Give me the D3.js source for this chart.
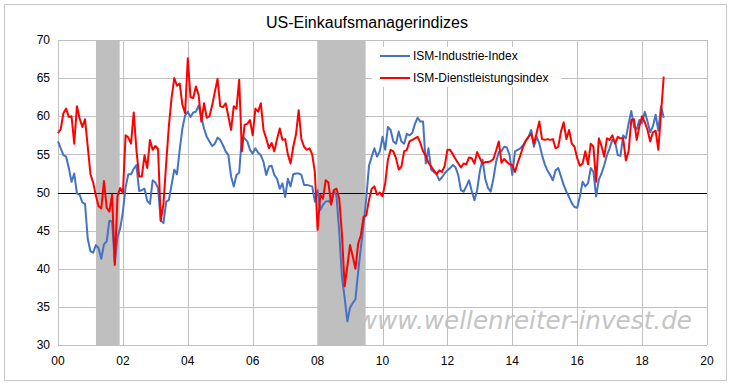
<html>
<head>
  <meta charset="utf-8">
  <title>US-Einkaufsmanagerindizes</title>
  <script src="https://d3js.org/d3.v7.min.js"></script>
  <style>
    body { margin: 0; background: #fff; }
    text { font-family: "Liberation Sans", Arial, sans-serif; }
  </style>
</head>
<body>
<script>
// monthly values, Jan 2000 .. Sep 2018
var ismIndustrie = [
  56.7, 55.8, 54.9, 54.7, 53.2, 51.4, 52.5, 49.9, 49.7, 48.7, 48.5, 43.9,
  42.3, 42.1, 43.1, 42.7, 41.3, 43.2, 43.6, 46.3, 46.2, 40.8, 44.1, 45.3,
  47.5, 50.7, 52.4, 52.4, 53.1, 53.6, 50.2, 50.3, 50.5, 48.9, 48.5, 51.6,
  51.3, 50.6, 46.3, 46.0, 48.8, 49.0, 51.0, 53.0, 52.4, 55.6, 58.4, 60.1,
  60.6, 59.9, 60.5, 60.6, 61.4, 59.9, 58.4, 57.3, 56.7, 56.1, 56.4, 57.2,
  56.9, 56.2, 55.4, 54.9, 52.1, 50.8, 52.3, 52.6, 57.3, 57.1, 56.7, 55.6,
  55.1, 55.8, 55.2, 54.9, 54.0, 52.3, 53.4, 53.5, 52.3, 51.8, 50.5, 51.2,
  49.4, 51.8, 50.8, 52.4, 52.5, 52.5, 52.3, 51.0, 51.0, 50.9, 50.8, 48.8,
  50.3, 47.7, 48.4, 48.8, 48.9, 48.6, 50.3, 49.5, 44.8, 38.9, 36.2, 33.1,
  34.9, 35.5, 36.0, 39.6, 42.8, 45.8, 49.2, 53.5, 54.7, 55.8, 54.7, 55.4,
  57.3, 55.6, 58.6, 58.2, 56.7, 56.4, 58.0, 56.7, 56.4, 57.7, 57.5, 57.8,
  59.0, 59.8, 59.3, 59.3, 53.8, 55.8, 53.0, 52.7, 52.4, 51.6, 52.0, 52.5,
  52.9, 53.2, 53.6, 53.3, 52.3, 50.3, 50.1, 50.8, 51.6, 50.2, 49.0, 50.3,
  52.8, 54.3, 51.8, 50.6, 50.1, 51.8, 54.0, 55.3, 55.4, 56.0, 55.9, 54.9,
  52.3, 55.4, 55.6, 55.8, 56.2, 56.8, 57.3, 58.2, 56.0, 57.3, 56.4, 54.9,
  53.7, 52.9, 52.3, 51.6, 52.9, 53.2, 52.1, 51.0, 50.1, 49.4, 48.6, 48.1,
  48.0, 49.5, 51.4, 50.8, 51.2, 53.2, 52.7, 49.5, 51.7, 52.5, 53.6, 54.9,
  55.8, 56.9, 56.7, 54.9, 54.8, 57.5, 57.1, 59.0, 60.7, 58.6, 58.3, 59.5,
  59.1, 60.6, 59.3, 57.9, 58.7, 60.2, 58.1, 61.3, 59.8
];
var ismDienst = [
  57.8, 58.3, 60.4, 61.0, 59.9, 60.0, 56.4, 61.3, 59.7, 58.6, 59.6, 56.0,
  52.4, 51.3, 49.6, 48.2, 47.9, 51.5, 48.0, 47.5, 49.7, 40.5, 49.5, 50.6,
  49.9, 57.5, 57.2, 56.4, 60.5, 55.6, 52.1, 52.1, 54.9, 53.2, 56.9, 55.6,
  56.1, 55.7, 46.3, 48.5, 53.8, 58.7, 62.4, 65.0, 64.0, 64.3, 61.5, 60.4,
  67.6, 62.5, 62.4, 63.9, 62.8, 59.3, 61.7, 59.8, 60.0, 61.4, 63.2, 64.9,
  61.3, 61.2, 61.7, 60.0, 58.2, 61.3, 61.0, 64.8, 55.4, 58.9, 59.0, 59.5,
  57.5, 61.0, 60.6, 61.7, 58.2, 57.1, 55.8, 56.5, 55.4, 57.0, 58.4, 56.9,
  57.0, 55.0, 53.8, 56.0, 57.6, 60.8, 57.0, 56.0, 55.6, 55.8, 55.0, 52.6,
  45.1, 49.7, 49.2, 51.6, 51.3, 48.4, 50.3, 50.5, 49.2, 44.6, 37.7, 40.3,
  43.1, 41.6, 40.0, 43.3, 44.4, 46.8, 47.0, 49.0, 50.5, 50.8, 49.7, 50.0,
  49.5, 51.2, 54.3, 55.6, 55.4, 54.5, 53.0, 53.4, 55.4, 55.6, 56.7, 56.9,
  57.1, 57.3, 56.5, 55.4, 54.8, 53.9, 53.4, 52.9, 52.4, 52.9, 52.7, 53.5,
  55.6, 55.6, 55.0, 54.4, 53.8, 53.3, 53.8, 53.7, 54.6, 54.5, 53.8, 55.3,
  54.5, 53.8, 54.0, 54.0, 54.1, 54.4, 55.5, 56.7, 53.9, 54.4, 54.0, 53.7,
  53.6, 52.7, 53.9, 54.9, 56.0, 56.8, 57.3, 57.7, 56.4, 57.8, 59.3, 57.0,
  56.9, 57.0, 56.9, 57.0, 55.8, 56.0, 58.0, 59.2, 57.0, 58.2, 56.4, 56.0,
  54.5, 53.5, 53.8, 55.4, 53.7, 56.4, 56.0, 51.4, 57.1, 56.1, 54.7, 57.1,
  56.9, 57.5, 56.4, 57.3, 57.1, 57.1, 54.2, 55.4, 59.5, 59.6, 56.9, 58.7,
  60.0, 59.2, 58.2, 56.7, 57.9, 58.1, 55.6, 60.4, 65.2
];
var seriesNames = ["ISM-Industrie-Index", "ISM-Dienstleistungsindex"];
// recessions, years after 2000
var recessions = [[1.17, 1.9], [7.99, 9.48]];
var xTicks = [0, 2, 4, 6, 8, 10, 12, 14, 16, 18, 20];
var yTicks = [30, 35, 40, 45, 50, 55, 60, 65, 70];

var width = 730, height = 384;
var margin = {top: 40, right: 23, bottom: 39, left: 58};

var svg = d3.select("body").append("svg")
  .attr("width", width).attr("height", height);

// outer frame
svg.append("rect")
  .attr("x", 4.5).attr("y", 4.5)
  .attr("width", 722).attr("height", 376)
  .attr("fill", "#fff").attr("stroke", "#c8c8c8");

var x = d3.scaleLinear().domain([0, 20]).range([margin.left, width - margin.right]);
var y = d3.scaleLinear().domain([30, 70]).range([height - margin.bottom, margin.top]);

svg.append("text")
  .attr("x", 367).attr("y", 28)
  .attr("text-anchor", "middle")
  .style("font-size", "16px")
  .text("US-Einkaufsmanagerindizes");

// watermark
svg.append("text")
  .attr("x", 357).attr("y", 329)
  .attr("textLength", 335).attr("lengthAdjust", "spacingAndGlyphs")
  .style("font-family", "'DejaVu Sans', Verdana, sans-serif")
  .style("font-style", "italic")
  .style("font-size", "25px")
  .attr("fill", "#c4c4c4")
  .text("www.wellenreiter-invest.de");

// grid
svg.append("g").selectAll("line").data(yTicks).enter().append("line")
  .attr("x1", x(0)).attr("x2", x(20))
  .attr("y1", function(d){ return Math.round(y(d)) + 0.5; })
  .attr("y2", function(d){ return Math.round(y(d)) + 0.5; })
  .attr("stroke", "#c0c0c0");
svg.append("g").selectAll("line").data(xTicks).enter().append("line")
  .attr("y1", y(30)).attr("y2", y(70))
  .attr("x1", function(d){ return Math.round(x(d)) + 0.5; })
  .attr("x2", function(d){ return Math.round(x(d)) + 0.5; })
  .attr("stroke", "#c0c0c0");

// recession bands
svg.append("g").selectAll("rect").data(recessions).enter().append("rect")
  .attr("x", function(d){ return x(d[0]); })
  .attr("width", function(d){ return x(d[1]) - x(d[0]); })
  .attr("y", y(70)).attr("height", y(30) - y(70))
  .attr("fill", "#bfbfbf");

// 50 line
svg.append("line")
  .attr("x1", x(0)).attr("x2", x(20))
  .attr("y1", Math.round(y(50)) + 0.5).attr("y2", Math.round(y(50)) + 0.5)
  .attr("stroke", "#000");

// axis labels
svg.append("g").selectAll("text").data(yTicks).enter().append("text")
  .attr("x", 50).attr("y", function(d){ return y(d); })
  .attr("dy", "0.35em").attr("text-anchor", "end")
  .style("font-size", "12px")
  .text(function(d){ return d; });
svg.append("g").selectAll("text").data(xTicks).enter().append("text")
  .attr("x", function(d){ return x(d); }).attr("y", 365)
  .attr("text-anchor", "middle")
  .style("font-size", "12px")
  .text(function(d){ return d3.format("02d")(d); });

// lines
var line = d3.line()
  .x(function(d, i){ return x(i / 12); })
  .y(function(d){ return y(d); });

var colors = ["#4472c4", "#ff0000"];
[ismIndustrie, ismDienst].forEach(function(s, k){
  svg.append("path")
    .datum(s)
    .attr("d", line)
    .attr("fill", "none")
    .attr("stroke", colors[k])
    .attr("stroke-width", 2)
    .attr("stroke-linejoin", "round");
});

// legend
var lg = svg.append("g");
lg.append("rect")
  .attr("x", 372).attr("y", 47).attr("width", 189).attr("height", 40)
  .attr("fill", "#fff");
seriesNames.forEach(function(n, k){
  var ly = 56 + k * 22;
  lg.append("line")
    .attr("x1", 380).attr("x2", 410).attr("y1", ly).attr("y2", ly)
    .attr("stroke", colors[k]).attr("stroke-width", 2);
  lg.append("text")
    .attr("x", 413).attr("y", ly).attr("dy", "0.35em")
    .style("font-size", "12px")
    .text(n);
});
</script>
</body>
</html>
